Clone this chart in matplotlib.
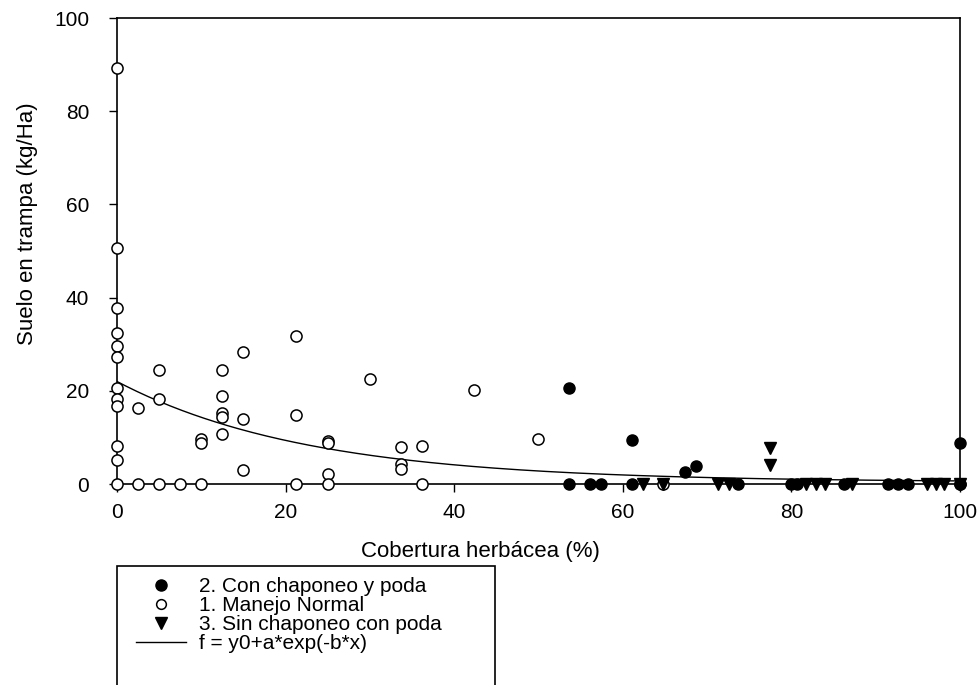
import numpy as np
import matplotlib
matplotlib.use('Agg')
import matplotlib.pyplot as plt
from matplotlib.lines import Line2D
from matplotlib.patches import Rectangle

plt.rcParams['font.family'] = ['Liberation Sans', 'DejaVu Sans']

# 1. Manejo Normal (open circles)
normal_x = [0, 0, 0, 0, 0, 0, 0, 0, 0, 0, 0, 0,
            2.5, 2.5, 5, 5, 5, 7.5, 10, 10, 10,
            12.5, 12.5, 12.5, 12.5, 12.5, 15, 15, 15,
            21.2, 21.2, 21.2, 25, 25, 25, 25, 30,
            33.7, 33.7, 33.7, 36.2, 36.2, 42.4, 49.9, 64.8, 100]
normal_y = [89.2, 50.6, 37.7, 32.5, 29.6, 27.2, 20.7, 18.2, 16.8, 8.2, 5.2, 0,
            16.4, 0, 24.5, 18.2, 0, 0, 9.6, 8.9, 0,
            24.5, 18.9, 15.3, 14.4, 10.7, 28.3, 13.9, 3.0,
            31.8, 14.9, 0, 9.2, 8.7, 2.2, 0, 22.6,
            8.0, 4.2, 3.2, 8.2, 0, 20.2, 9.6, 0, 0]

# 2. Con chaponeo y poda (filled circles)
chapo_x = [53.6, 53.6, 56.1, 57.4, 61.1, 61.1, 67.4, 68.7, 73.7,
           79.9, 80.7, 86.2, 91.4, 92.6, 93.8, 100, 100]
chapo_y = [20.7, 0, 0, 0, 9.4, 0, 2.6, 3.9, 0,
           0, 0, 0, 0, 0, 0, 8.9, 0]

# 3. Sin chaponeo con poda (triangles)
sin_x = [62.4, 64.8, 71.3, 72.6, 77.5, 77.5, 81.7, 82.9, 84.0,
         87.2, 96.1, 97.1, 98.1, 100]
sin_y = [0, 0, 0, 0, 7.7, 4.1, 0, 0, 0,
         0, 0, 0, 0, 0]

# fitted parameters for f = y0 + a*exp(-b*x)
y0 = 0.4
a = 21.6
b = 0.044

fig = plt.figure(figsize=(9.8, 6.85), dpi=100)
ax = fig.add_axes([0.1194, 0.2934, 0.8602, 0.6803])

xf = np.linspace(0, 100, 300)
ax.plot(xf, y0 + a * np.exp(-b * xf), color='black', lw=1.0, zorder=2)

ax.plot(normal_x, normal_y, 'o', ms=8, mfc='white', mec='black', mew=1.1,
        clip_on=False, zorder=3)
ax.plot(chapo_x, chapo_y, 'o', ms=8, mfc='black', mec='black',
        clip_on=False, zorder=4)
ax.plot(sin_x, sin_y, 'v', ms=9, mfc='black', mec='black',
        clip_on=False, zorder=4)

ax.set_xlim(0, 100)
ax.set_ylim(0, 100)
ax.set_xticks([0, 20, 40, 60, 80, 100])
ax.set_yticks([0, 20, 40, 60, 80, 100])
ax.tick_params(axis='both', direction='out', length=6, width=1.0,
               labelsize=15)
ax.tick_params(axis='y', pad=14)
ax.tick_params(axis='x', pad=8)
for s in ax.spines.values():
    s.set_linewidth(1.2)

fig.text(480 / 980, 1 - 551 / 685, 'Cobertura herbácea (%)', fontsize=16,
         ha='center', va='center')
fig.text(27 / 980, 1 - 224 / 685, 'Suelo en trampa (kg/Ha)', fontsize=16,
         rotation=90, ha='center', va='center')

handles = [
    Line2D([], [], marker='o', ls='none', ms=8, mfc='black', mec='black'),
    Line2D([], [], marker='o', ls='none', ms=7, mfc='white', mec='black', mew=1.1),
    Line2D([], [], marker='v', ls='none', ms=9, mfc='black', mec='black'),
    Line2D([], [], color='black', lw=1.0),
]
labels = ['2. Con chaponeo y poda', '1. Manejo Normal',
          '3. Sin chaponeo con poda', 'f = y0+a*exp(-b*x)']
fig.legend(handles, labels, loc='upper left',
           bbox_to_anchor=(136 / 980, 1 - 577 / 685), frameon=False,
           fontsize=15, handlelength=2.4, handletextpad=0.6,
           labelspacing=0.0, borderpad=0, borderaxespad=0)
fig.patches.append(Rectangle((117 / 980, -0.05), (495 - 117) / 980,
                             0.05 + 1 - 566 / 685, transform=fig.transFigure,
                             fill=False, ec='black', lw=1.2))

fig.savefig('out.png', dpi=100)
